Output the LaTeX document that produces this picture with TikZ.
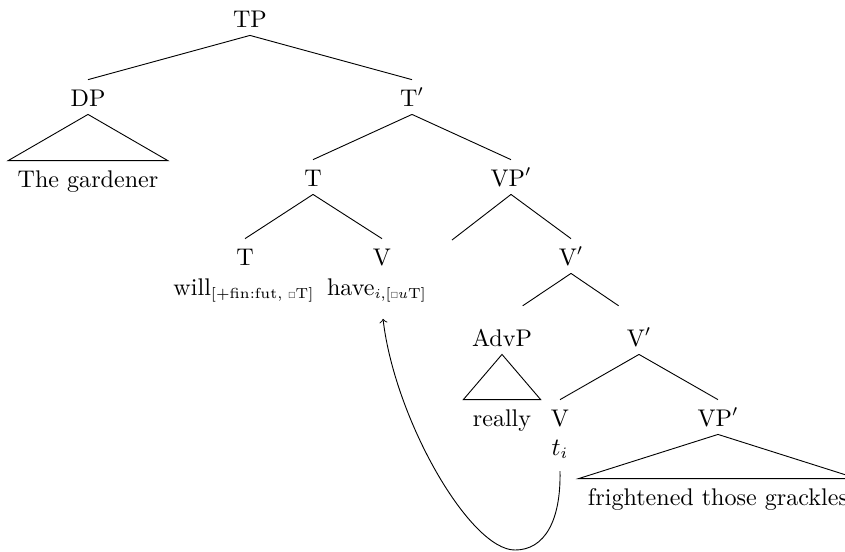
\documentclass[tikz,border=0pt]{standalone}
\usepackage{amsmath, amssymb}
\usepackage{tikz}
\usetikzlibrary{calc}
\newcommand{\feat}[1]{\mbox{\fontsize{6.4}{7}\selectfont #1}}
\newcommand{\uval}{\scalebox{.55}{$\square$}}
\tikzset{
    cat/.style={inner sep=0pt, text height=11.4pt, text depth=3.5pt, anchor=base},
    leaf/.style={cat, inner xsep=4pt},
    word/.style={inner sep=0pt, anchor=base},
    movement/.style={->, thin}
}
\begin{document}
\begin{tikzpicture}[x=0.44pt, y=-0.44pt, font=\fontsize{10.6}{13}\selectfont]
    \useasboundingbox (0,0) rectangle (845,551);
    \node[cat] (tp) at (250,27) {TP};
    \node[cat] (dp) at (88,106) {DP};
    \node[cat] (tbar) at (412,106) {T$'$};
    \node[leaf] (gardener) at (88,187) {The gardener};
    \node[cat] (t) at (313,186) {T};
    \node[cat] (vp) at (511,186) {VP$'$};
    \node[cat] (tlow) at (245,265) {T};
    \node[cat] (v) at (382,265) {V};
    \coordinate (vpgap) at (452,240);
    \node[cat] (vbar) at (571,265) {V$'$};
    \node[word] (will) at (244,295) {will$_{\feat{[+fin:fut, \uval T]}}$};
    \node[word] (have) at (377,295) {have$_{\feat{$i$,[\uval$u$T]}}$};
    \node[cat] (advp) at (502,346) {AdvP};
    \node[cat] (vbarlow) at (639,346) {V$'$};
    \node[leaf] (really) at (502,426) {really};
    \node[cat] (vlow) at (560,426) {V};
    \node[cat] (vplow) at (718,426) {VP$'$};
    \node[word] (trace) at (560,455) {$t_i$};
    \node[leaf] (frightened) at (718,505) {frightened those grackles};
    \draw (tp.south) -- (dp.north);
    \draw (tp.south) -- (tbar.north);
    \draw (dp.south) -- (gardener.north west) -- (gardener.north east) -- cycle;
    \draw (tbar.south) -- (t.north);
    \draw (tbar.south) -- (vp.north);
    \draw (t.south) -- (tlow.north);
    \draw (t.south) -- (v.north);
    \draw (vp.south) -- (vpgap);
    \draw (vp.south) -- (vbar.north);
    \draw (vbar.south) -- ($(advp.north)!0.3!(vbar.south)$);
    \draw (vbar.south) -- ($(vbarlow.north)!0.3!(vbar.south)$);
    \draw (advp.south) -- (really.north west) -- (really.north east) -- cycle;
    \draw (vbarlow.south) -- (vlow.north);
    \draw (vbarlow.south) -- (vplow.north);
    \draw (vplow.south) -- (frightened.north west) -- (frightened.north east) -- cycle;
    \draw[movement] ($(trace.south)+(0,12)$) .. controls (561,520) and (545,550) .. (515,550) .. controls (470,550) and (395,420) .. ($(have.south)+(6,16)$);
\end{tikzpicture}
\end{document}
